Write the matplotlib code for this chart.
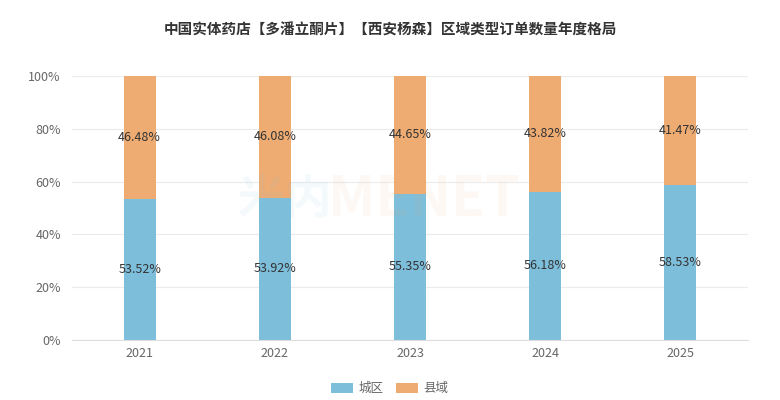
import matplotlib
matplotlib.use('Agg')
import matplotlib.pyplot as plt
import numpy as np

plt.rcParams['font.family'] = ['Noto Sans CJK SC', 'DejaVu Sans']

title = '中国实体药店【多潘立酮片】【西安杨森】区域类型订单数量年度格局'
years = ['2021', '2022', '2023', '2024', '2025']
urban = [53.52, 53.92, 55.35, 56.18, 58.53]   # 城区
county = [46.48, 46.08, 44.65, 43.82, 41.47]  # 县域
series_names = ['城区', '县域']
colors = ['#7dbedb', '#eeac72']

fig = plt.figure(figsize=(7.8, 4.0), dpi=100)
ax = fig.add_axes([72 / 780, 60 / 400, 676 / 780, 264 / 400])

x = np.arange(len(years))
w = 0.237
ax.bar(x, urban, width=w, color=colors[0], label=series_names[0], zorder=3)
ax.bar(x, county, width=w, bottom=urban, color=colors[1], label=series_names[1], zorder=3)

for xi, u, c in zip(x, urban, county):
    ax.text(xi, u / 2, f'{u:.2f}%', ha='center', va='center', fontsize=9, color='#333333', zorder=4)
    ax.text(xi, u + c / 2, f'{c:.2f}%', ha='center', va='center', fontsize=9, color='#333333', zorder=4)

ax.set_xlim(-0.5, len(years) - 0.5)
ax.set_ylim(0, 100)
ax.set_yticks(range(0, 101, 20))
ax.set_yticklabels([f'{v}%' for v in range(0, 101, 20)])
ax.set_xticks(x)
ax.set_xticklabels(years)
ax.tick_params(axis='both', length=0, labelsize=9, colors='#666666')
ax.tick_params(axis='x', pad=5)
ax.tick_params(axis='y', pad=8)
ax.grid(axis='y', color='#ebebeb', linewidth=0.8, zorder=0)
for side in ['top', 'right', 'left']:
    ax.spines[side].set_visible(False)
ax.spines['bottom'].set_color('#dddddd')
ax.spines['bottom'].set_zorder(5)

# faint watermark
fig.text(0.305, 0.5, '米内', fontsize=34, color='#7dbedb', alpha=0.08, fontweight='bold', va='center', ha='left')
fig.text(0.42, 0.5, 'MENET', fontsize=40, color='#eeac72', alpha=0.08, fontweight='bold', va='center', ha='left')

fig.text(0.5, 0.925, title, ha='center', va='center', fontsize=10.5, fontweight='bold', color='#333333')

leg = fig.legend(loc='center', bbox_to_anchor=(0.5, 0.028), ncol=2, frameon=False,
                 fontsize=9, handlelength=1.7, handleheight=0.9, columnspacing=1.0, handletextpad=0.5)
for t in leg.get_texts():
    t.set_color('#666666')

fig.savefig('out.png', dpi=100)
